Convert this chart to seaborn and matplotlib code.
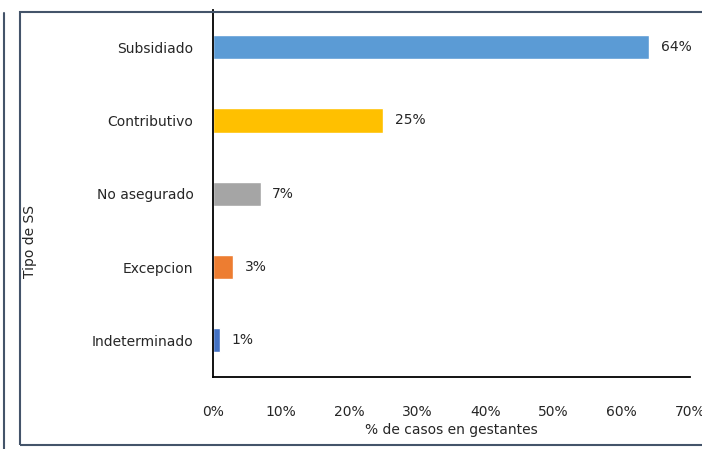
import pandas as pd
import matplotlib
matplotlib.use('Agg')
import matplotlib.pyplot as plt
import seaborn as sns
from matplotlib.patches import Rectangle
from matplotlib.lines import Line2D

tipos = ["Subsidiado", "Contributivo", "No asegurado", "Excepcion", "Indeterminado"]
porcentajes = [64, 25, 7, 3, 1]
colores = ["#5B9BD5", "#FFC000", "#A5A5A5", "#ED7D31", "#4472C4"]
ticks_x = [0, 10, 20, 30, 40, 50, 60, 70]

df = pd.DataFrame({"tipo": tipos, "pct": porcentajes})

sns.set_style("white")
plt.rcParams['font.family'] = ['DejaVu Sans']

fig = plt.figure(figsize=(7.02, 4.49), dpi=100)
ax = fig.add_axes([213 / 702, 1 - 377 / 449, 477 / 702, (377 - 10.5) / 449])

sns.barplot(data=df, y="tipo", x="pct", hue="tipo", palette=colores,
            legend=False, width=0.33, saturation=1, ax=ax, orient="h")

for i, v in enumerate(porcentajes):
    ax.text(v + 1.7, i, f"{v}%", va="center", ha="left", fontsize=10, color="#262626")

ax.set_xlim(0, 70)
ax.set_ylim(4.5, -0.5)
ax.set_xticks(ticks_x)
ax.set_xticklabels([f"{t}%" for t in ticks_x], fontsize=10, color="#262626")
ax.tick_params(axis="y", labelsize=10, labelcolor="#262626", length=0, pad=14)
ax.tick_params(axis="x", length=0, pad=20)
ax.set_xlabel("% de casos en gestantes", fontsize=10, color="#262626", labelpad=3)
ax.set_ylabel("Tipo de SS", fontsize=10, color="#262626")
ax.yaxis.set_label_coords(-0.37, 0.37)

for s in ["top", "right"]:
    ax.spines[s].set_visible(False)
for s in ["left", "bottom"]:
    ax.spines[s].set_color("black")
    ax.spines[s].set_linewidth(1.3)

# marco del grafico
fig.patches.append(Rectangle((20 / 702, 1 - 445 / 449), 700 / 702, (445 - 12) / 449,
                             transform=fig.transFigure, fill=False,
                             edgecolor="#44546A", linewidth=1.5, clip_on=False))
fig.lines.append(Line2D([4 / 702, 4 / 702], [0, 1 - 13 / 449], transform=fig.transFigure,
                        color="#44546A", linewidth=1.5))

plt.savefig("out.png", dpi=100)
plt.close()
